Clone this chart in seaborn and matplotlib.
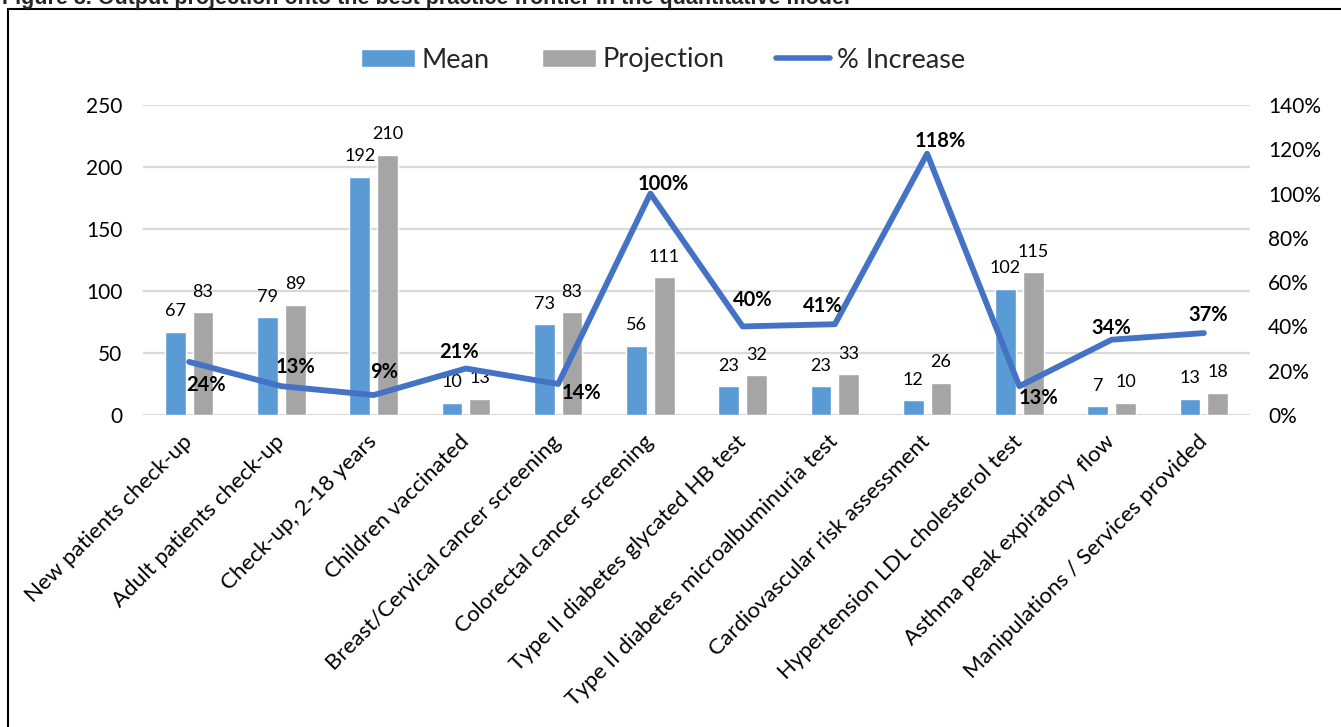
import numpy as np
import pandas as pd
import matplotlib
matplotlib.use("Agg")
import matplotlib.pyplot as plt
import seaborn as sns
from matplotlib.patches import Rectangle, Patch
from matplotlib.lines import Line2D

# ---------------- data ----------------
categories = [
    "New patients check-up",
    "Adult patients check-up",
    "Check-up, 2-18 years",
    "Children vaccinated",
    "Breast/Cervical cancer screening",
    "Colorectal cancer screening",
    "Type II diabetes glycated HB test",
    "Type II diabetes microalbuminuria test",
    "Cardiovascular risk assessment",
    "Hypertension LDL cholesterol test",
    "Asthma peak expiratory  flow",
    "Manipulations / Services provided",
]
mean_vals = [67, 79, 192, 10, 73, 56, 23, 23, 12, 102, 7, 13]
projection_vals = [83, 89, 210, 13, 83, 111, 32, 33, 26, 115, 10, 18]
pct_increase = [24, 13, 9, 21, 14, 100, 40, 41, 118, 13, 34, 37]
left_ticks = [0, 50, 100, 150, 200, 250]
right_ticks = [0, 20, 40, 60, 80, 100, 120, 140]
series_names = ["Mean", "Projection", "% Increase"]
title = "Figure 8. Output projection onto the best practice frontier in the quantitative model"

# ---------------- style ----------------
C_MEAN = "#5B9BD5"
C_PROJ = "#A5A5A5"
C_LINE = "#4472C4"
# label offsets in pixels (dx, dy) for the % labels
pct_offsets = [(17, -23), (14, 19), (11, 23), (-7, 16), (23, -9), (13, 10),
               (10, 26), (-12, 18), (13, 13), (19, -12), (0, 12), (4, 18)]

sns.set_theme(style="white")
plt.rcParams["font.family"] = ["Lato", "DejaVu Sans"]

W, H = 1341, 727
fig = plt.figure(figsize=(W / 100, H / 100), dpi=100)
ax = fig.add_axes([143 / W, 1 - 415 / H, 1107 / W, 310 / H])

n = len(categories)
df = pd.DataFrame({
    "cat": categories * 2,
    "val": mean_vals + projection_vals,
    "series": [series_names[0]] * n + [series_names[1]] * n,
})
sns.barplot(data=df, x="cat", y="val", hue="series",
            palette={series_names[0]: C_MEAN, series_names[1]: C_PROJ},
            width=0.6, gap=0.25, saturation=1, legend=False, ax=ax)

for cont in ax.containers:
    ax.bar_label(cont, padding=9, fontsize=13, color="#000000")

ax.set_ylim(0, 250)
ax.set_yticks(left_ticks)
ax.yaxis.grid(True, color="#D9D9D9", lw=1.6)
ax.set_axisbelow(True)
for s in ax.spines.values():
    s.set_visible(False)
ax.set_xlabel("")
ax.set_ylabel("")
ax.tick_params(axis="y", length=0, pad=15, labelsize=15, labelcolor="#000000")
ax.tick_params(axis="x", length=0, pad=17)
ax.set_xticks(range(n))
ax.set_xticklabels(categories, rotation=45, ha="right", va="center",
                   rotation_mode="anchor", fontsize=16, color="#000000")

ax2 = ax.twinx()
pct_frac = np.array(pct_increase) / 100.0
sns.lineplot(x=np.arange(n), y=pct_frac, color=C_LINE, lw=4.2, ax=ax2)
ax2.set_ylim(0, 1.4)
ax2.set_yticks(np.array(right_ticks) / 100.0)
ax2.set_yticklabels([f"{t}%" for t in right_ticks])
ax2.tick_params(axis="y", length=0, pad=13, labelsize=15, labelcolor="#000000")
ax2.grid(False)
for s in ax2.spines.values():
    s.set_visible(False)
ax2.set_ylabel("")
ax.set_xlim(-0.5, n - 0.5)

for i, (v, off) in enumerate(zip(pct_increase, pct_offsets)):
    ax2.annotate(f"{v}%", (i, v / 100.0), xytext=off, textcoords="offset pixels",
                 ha="center", va="center", fontsize=14.5, fontweight="bold", color="#000000")

handles = [
    Patch(facecolor=C_MEAN, label=series_names[0]),
    Patch(facecolor=C_PROJ, label=series_names[1]),
    Line2D([], [], color=C_LINE, lw=4, label=series_names[2]),
]
fig.legend(handles=handles, ncol=3, loc="center", bbox_to_anchor=(663 / W, 1 - 60 / H),
           frameon=False, fontsize=19.5, handlelength=2.0, handleheight=0.6,
           columnspacing=1.9, handletextpad=0.25)

# frame and clipped caption
fig.patches.append(Rectangle((8 / W, -0.1), 1.2, 1 - 9 / H + 0.1, transform=fig.transFigure,
                             fill=False, ec="black", lw=1.5))
fig.text(2 / W, 1 - 4 / H, title, fontsize=15.5, fontweight="bold",
         family=["Liberation Sans", "DejaVu Sans"], va="baseline", ha="left")

fig.savefig("out.png", dpi=100)
